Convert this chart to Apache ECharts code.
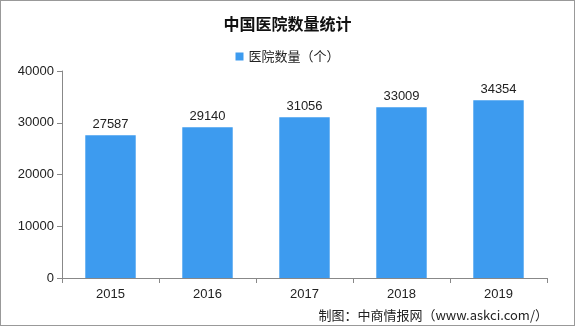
<!DOCTYPE html>
<html>
<head>
<meta charset="utf-8">
<script src="https://cdn.jsdelivr.net/npm/echarts@6/dist/echarts.min.js"></script>
<style>
  html, body { margin: 0; padding: 0; background: #fff; }
  #chart { width: 575px; height: 326px; box-sizing: border-box; border: 1px solid #999; }
</style>
</head>
<body>
<div id="chart"></div>
<script>
// 数据
const years = ["2015", "2016", "2017", "2018", "2019"];
const hospitalCounts = [27587, 29140, 31056, 33009, 34354];
const yTicks = { min: 0, max: 40000, interval: 10000 };

const chart = echarts.init(document.getElementById("chart"));
const cjk = "'Noto Sans CJK SC', sans-serif";
const num = "'Liberation Sans', Arial, sans-serif";

chart.setOption({
  animation: false,
  backgroundColor: "#fff",
  title: {
    text: "中国医院数量统计",
    left: "center",
    top: 10,
    textStyle: { fontFamily: cjk, fontSize: 16, fontWeight: "bold", color: "#111" },
  },
  legend: {
    top: 44,
    left: "center",
    itemWidth: 8,
    itemHeight: 8,
    itemGap: 4,
    icon: "rect",
    textStyle: { fontFamily: cjk, fontSize: 13, color: "#222" },
    data: ["医院数量（个）"],
  },
  grid: { left: 61, right: 27, top: 70, bottom: 47, containLabel: false },
  xAxis: {
    type: "category",
    data: years,
    axisLine: { lineStyle: { color: "#888" } },
    axisTick: { show: true, alignWithLabel: false, length: 5, lineStyle: { color: "#888" } },
    axisLabel: { fontFamily: num, fontSize: 13, color: "#222", margin: 10 },
  },
  yAxis: {
    type: "value",
    min: yTicks.min,
    max: yTicks.max,
    interval: yTicks.interval,
    axisLine: { show: true, lineStyle: { color: "#888" } },
    axisTick: { show: true, length: 5, lineStyle: { color: "#888" } },
    axisLabel: { fontFamily: num, fontSize: 13, color: "#222", margin: 8, formatter: (v) => String(v) },
    splitLine: { show: false },
  },
  series: [
    {
      name: "医院数量（个）",
      type: "bar",
      data: hospitalCounts,
      barWidth: "52%",
      itemStyle: { color: "#3d9bef" },
      label: {
        show: true,
        position: "top",
        distance: 4,
        fontFamily: num,
        fontSize: 13,
        color: "#222",
      },
    },
  ],
  graphic: [
    {
      type: "text",
      right: 26,
      bottom: 3,
      style: {
        text: "制图：中商情报网（www.askci.com/）",
        font: "13px " + cjk,
        fill: "#222",
      },
    },
  ],
});
</script>
</body>
</html>
